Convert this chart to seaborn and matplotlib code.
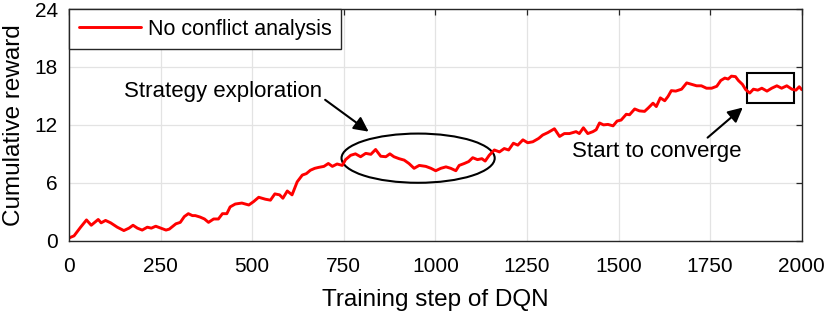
import pandas as pd
import matplotlib.pyplot as plt
import seaborn as sns
from matplotlib.patches import Ellipse, Rectangle

# values
steps = [0, 14, 32, 48, 61, 80, 88, 100, 114, 132, 150, 164, 175, 187, 200, 214, 225, 237,
         251, 265, 274, 292, 304, 315, 326, 337, 345, 358, 370, 381, 395, 408, 419, 431, 440,
         454, 472, 491, 504, 518, 536, 550, 562, 575, 584, 596, 609, 623, 637, 648, 659, 671,
         682, 696, 708, 719, 732, 746, 755, 769, 782, 796, 810, 824, 837, 851, 865, 876, 887,
         901, 915, 928, 942, 956, 974, 988, 1001, 1015, 1029, 1042, 1056, 1065, 1079, 1091,
         1102, 1115, 1127, 1136, 1147, 1161, 1175, 1188, 1200, 1213, 1225, 1239, 1252, 1266,
         1282, 1293, 1307, 1325, 1339, 1352, 1366, 1384, 1393, 1404, 1416, 1430, 1439, 1448,
         1459, 1471, 1485, 1496, 1507, 1521, 1530, 1544, 1557, 1571, 1581, 1594, 1603, 1614,
         1626, 1635, 1644, 1656, 1672, 1686, 1699, 1713, 1726, 1740, 1754, 1768, 1779, 1790,
         1799, 1808, 1819, 1827, 1838, 1847, 1858, 1868, 1880, 1891, 1905, 1918, 1932, 1945,
         1959, 1973, 1984, 1993, 2000]
reward = [0.28, 0.5, 1.4, 2.15, 1.6, 2.2, 1.85, 2.1, 1.85, 1.4, 1.05, 1.3, 1.6, 1.3, 1.1, 1.4,
          1.3, 1.5, 1.3, 1.1, 1.2, 1.75, 1.9, 2.5, 2.8, 2.6, 2.6, 2.45, 2.25, 1.9, 2.25, 2.25,
          2.8, 2.8, 3.5, 3.8, 3.9, 3.7, 4.05, 4.5, 4.3, 4.2, 4.85, 4.75, 4.4, 5.15, 4.75, 6.1,
          6.8, 6.95, 7.3, 7.5, 7.6, 7.7, 8.0, 7.7, 7.95, 7.8, 8.4, 8.85, 9.0, 8.7, 9.05, 8.95,
          9.45, 8.75, 8.7, 9.0, 8.7, 8.5, 8.35, 8.0, 7.5, 7.8, 7.7, 7.5, 7.25, 7.5, 7.65, 7.5,
          7.25, 7.8, 8.0, 8.2, 8.6, 8.4, 8.5, 8.25, 8.85, 9.4, 9.2, 9.55, 9.4, 10.1, 9.9, 10.45,
          10.15, 10.25, 10.6, 10.95, 11.2, 11.6, 10.8, 11.1, 11.1, 11.3, 11.1, 11.7, 11.1, 11.3,
          11.5, 12.2, 12.0, 12.05, 11.9, 12.4, 12.5, 13.1, 13.05, 13.65, 13.45, 13.4, 13.75,
          14.25, 13.9, 14.8, 14.5, 14.95, 15.55, 15.5, 15.7, 16.35, 16.2, 16.05, 16.05, 15.8,
          15.8, 16.0, 16.6, 16.85, 16.75, 17.05, 17.0, 16.6, 16.2, 15.65, 15.3, 15.7, 15.6,
          15.8, 15.5, 15.8, 16.05, 15.8, 16.05, 15.7, 15.6, 15.95, 15.65]

x_ticks = [0, 250, 500, 750, 1000, 1250, 1500, 1750, 2000]
y_ticks = [0, 6, 12, 18, 24]

sns.set_theme(style="whitegrid", rc={'text.color': 'black', 'axes.labelcolor': 'black'})
plt.rcParams['font.family'] = ['Liberation Sans', 'DejaVu Sans']

df = pd.DataFrame({'step': steps, 'reward': reward})

fig = plt.figure(figsize=(8.3, 3.13), dpi=100)
ax = fig.add_axes([0.083, 0.231, 0.883, 0.74])
sns.lineplot(data=df, x='step', y='reward', color='#ff0000', lw=2.1,
             label='No conflict analysis', ax=ax)

ax.set_xlim(0, 2000)
ax.set_ylim(0, 24)
ax.set_xticks(x_ticks)
ax.set_yticks(y_ticks)
ax.grid(True, color='#e3e3e3', lw=0.9)
for s in ax.spines.values():
    s.set_color('#262626')
    s.set_linewidth(1.0)
ax.tick_params(direction='in', top=True, right=True, length=4, width=0.9,
               color='#262626', labelsize=15, labelcolor='#000000')
ax.tick_params(axis='x', pad=12)
ax.tick_params(axis='y', pad=8)
ax.set_xlabel('Training step of DQN', fontsize=17.5, labelpad=9)
ax.set_ylabel('Cumulative reward', fontsize=17.5, labelpad=7)

leg = ax.legend(loc='upper left', borderaxespad=0, fancybox=False, framealpha=1,
                edgecolor='#262626', fontsize=15.5, handlelength=2.9, handletextpad=0.32,
                borderpad=0.45)
leg.get_frame().set_linewidth(1.0)

# annotations
ax.add_patch(Ellipse((953, 8.55), 418, 5.1, fill=False, ec='black', lw=1.5))
ax.add_patch(Rectangle((1851, 14.24), 129, 3.16, fill=False, ec='black', lw=1.5))
ax.annotate('Strategy exploration', xy=(818, 11.3), xytext=(420, 15.5), fontsize=16,
            ha='center', va='center',
            arrowprops=dict(arrowstyle='-|>', color='black', lw=1.5, mutation_scale=22,
                            shrinkA=0, shrinkB=0, relpos=(1.0, 0.2)))
ax.annotate('Start to converge', xy=(1839, 13.8), xytext=(1603, 9.25), fontsize=16,
            ha='center', va='center',
            arrowprops=dict(arrowstyle='-|>', color='black', lw=1.5, mutation_scale=22,
                            shrinkA=0, shrinkB=0, relpos=(0.78, 1.0)))

plt.savefig('out.png', dpi=100)
plt.close()
